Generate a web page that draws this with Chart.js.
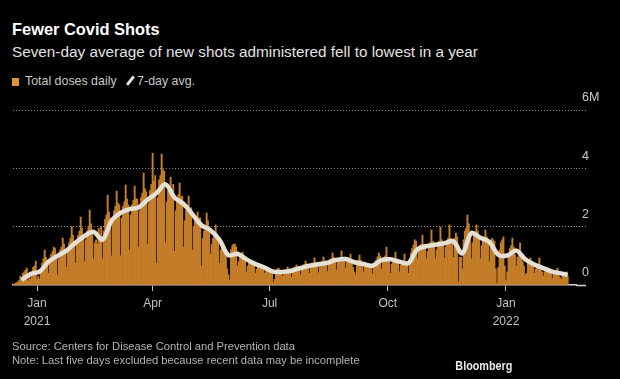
<!DOCTYPE html>
<html lang="en">
  <head>
    <meta charset="UTF-8" />
    <title>Fewer Covid Shots</title>
    <script src="https://cdn.jsdelivr.net/npm/chart.js@4.4.1/dist/chart.umd.min.js"></script>
    <style>
      body {
        margin: 0;
        background: #000;
        font-family: "Liberation Sans", Arial, sans-serif;
      }
      #wrap {
        position: relative;
        width: 620px;
        height: 379px;
        background: #000;
        overflow: hidden;
      }
      .txt {
        position: absolute;
        left: 12px;
        line-height: 1;
        white-space: nowrap;
      }
      #title {
        top: 21px;
        font-size: 16.4px;
        font-weight: bold;
        color: #ffffff;
      }
      #subtitle {
        top: 44px;
        font-size: 15.3px;
        color: #e2e2e2;
      }
      #legend {
        top: 75px;
        font-size: 12.4px;
        color: #c8c8c8;
      }
      #legend .box {
        display: inline-block;
        width: 7px;
        height: 8px;
        background: #e0952f;
        margin-right: 6px;
        vertical-align: -1px;
      }
      #legend .slash {
        display: inline-block;
        width: 2.5px;
        height: 11px;
        background: #e6e2d9;
        border-radius: 1px;
        transform: rotate(38deg);
        margin: 0 6px 0 12px;
        vertical-align: -1px;
      }
      #source {
        top: 341px;
        font-size: 11.2px;
        color: #b4b4b4;
      }
      #note {
        top: 355px;
        font-size: 11.2px;
        color: #b4b4b4;
      }
      #brand {
        position: absolute;
        right: 108px;
        top: 360px;
        font-size: 12px;
        font-weight: bold;
        color: #e8e8e8;
        line-height: 1;
        transform: scaleX(0.9);
        transform-origin: right center;
      }
      #chart-box {
        position: absolute;
        left: 0;
        top: 0;
        width: 620px;
        height: 379px;
      }
    </style>
  </head>
  <body>
    <div id="wrap">
      <div class="txt" id="title">Fewer Covid Shots</div>
      <div class="txt" id="subtitle">Seven-day average of new shots administered fell to lowest in a year</div>
      <div class="txt" id="legend"><span class="box"></span>Total doses daily<span class="slash"></span>7-day avg.</div>
      <div id="chart-box"><canvas id="shots"></canvas></div>
      <div class="txt" id="source">Source: Centers for Disease Control and Prevention data</div>
      <div class="txt" id="note">Note: Last five days excluded because recent data may be incomplete</div>
      <div id="brand">Bloomberg</div>
    </div>

    <script>
      // daily doses (millions), one row per week, Monday..Sunday, first day Dec 14 2020
      const firstDate = "2020-12-14";
      const dosesByWeek = [
        [0.02, 0.05, 0.08, 0.1, 0.15, 0.3, 0.22],
        [0.4, 0.45, 0.5, 0.58, 0.15, 0.35, 0.2],
        [0.45, 0.6, 0.65, 0.82, 0.2, 0.3, 0.2],
        [0.55, 0.75, 0.9, 1.2, 0.95, 0.85, 0.4],
        [0.85, 1.05, 1.15, 1.3, 1.25, 0.95, 0.35],
        [0.9, 1.2, 1.3, 1.61, 1.4, 1.2, 0.6],
        [1.2, 1.45, 1.6, 2.0, 1.7, 1.45, 0.75],
        [1.4, 1.7, 1.85, 2.33, 1.95, 1.65, 0.8],
        [1.55, 1.85, 2.0, 2.57, 2.1, 1.75, 0.9],
        [1.45, 1.55, 1.4, 1.95, 1.6, 2.0, 0.9],
        [1.85, 2.25, 2.4, 3.08, 2.5, 2.3, 1.0],
        [2.25, 2.55, 2.7, 3.22, 2.8, 2.75, 1.0],
        [2.3, 2.7, 2.85, 3.43, 2.95, 2.75, 1.2],
        [2.4, 2.75, 2.9, 3.39, 2.95, 2.95, 1.3],
        [2.55, 3.0, 3.15, 3.84, 3.3, 3.2, 1.4],
        [2.8, 3.25, 3.45, 4.52, 3.55, 3.75, 0.75],
        [3.0, 3.6, 3.75, 4.49, 3.95, 3.9, 1.45],
        [2.85, 3.25, 3.35, 3.7, 3.25, 3.45, 1.15],
        [2.55, 2.95, 3.1, 3.5, 3.0, 3.05, 1.3],
        [2.2, 2.55, 2.7, 3.05, 2.6, 2.65, 1.2],
        [2.0, 2.25, 2.35, 2.5, 2.3, 2.3, 0.65],
        [1.6, 1.85, 2.0, 2.47, 2.2, 2.0, 1.05],
        [1.4, 1.6, 1.7, 2.06, 1.75, 1.6, 0.75],
        [1.2, 1.3, 1.3, 1.3, 1.15, 0.55, 0.35],
        [0.17, 1.2, 1.35, 1.4, 1.4, 1.3, 0.65],
        [0.8, 0.95, 1.0, 1.13, 0.95, 0.85, 0.45],
        [0.65, 0.75, 0.8, 0.85, 0.8, 0.8, 0.4],
        [0.55, 0.65, 0.65, 0.7, 0.65, 0.6, 0.4],
        [0.5, 0.55, 0.55, 0.58, 0.52, 0.42, 0.08],
        [0.2, 0.5, 0.55, 0.58, 0.5, 0.5, 0.3],
        [0.45, 0.5, 0.52, 0.62, 0.55, 0.52, 0.27],
        [0.52, 0.6, 0.62, 0.69, 0.64, 0.62, 0.35],
        [0.6, 0.68, 0.7, 0.82, 0.72, 0.68, 0.4],
        [0.63, 0.72, 0.74, 0.93, 0.76, 0.77, 0.42],
        [0.68, 0.77, 0.8, 0.96, 0.82, 0.83, 0.46],
        [0.78, 0.87, 0.9, 1.1, 0.95, 0.9, 0.52],
        [0.8, 0.9, 0.92, 1.17, 0.95, 0.92, 0.57],
        [0.8, 0.85, 0.85, 1.06, 0.85, 0.6, 0.45],
        [0.35, 0.8, 0.85, 1.03, 0.85, 0.7, 0.45],
        [0.65, 0.7, 0.72, 0.75, 0.72, 0.7, 0.38],
        [0.7, 0.8, 0.85, 0.96, 1.1, 1.0, 0.55],
        [0.85, 0.95, 1.0, 1.3, 0.9, 0.8, 0.4],
        [0.72, 0.82, 0.85, 1.13, 0.85, 0.78, 0.45],
        [0.68, 0.75, 0.8, 1.06, 0.8, 0.75, 0.4],
        [0.85, 1.1, 1.25, 1.37, 1.55, 1.5, 0.9],
        [1.2, 1.35, 1.4, 1.71, 1.4, 1.35, 0.9],
        [1.15, 1.3, 1.45, 1.89, 1.5, 1.45, 0.9],
        [1.2, 1.4, 1.5, 1.99, 1.55, 1.45, 0.92],
        [1.3, 1.5, 1.6, 2.06, 1.6, 1.5, 0.95],
        [1.6, 1.78, 1.65, 0.1, 0.95, 0.95, 0.55],
        [1.55, 1.85, 1.95, 2.4, 2.1, 1.7, 0.9],
        [1.45, 1.7, 1.8, 2.06, 1.85, 1.55, 0.9],
        [1.35, 1.55, 1.65, 1.89, 1.65, 1.45, 0.8],
        [1.45, 1.6, 1.55, 1.5, 0.55, 0.05, 0.6],
        [1.2, 1.45, 1.55, 1.65, 0.65, 0.15, 0.45],
        [1.05, 1.25, 1.35, 1.61, 1.3, 1.05, 0.65],
        [0.95, 1.1, 1.44, 0.9, 0.8, 0.65, 0.35],
        [0.4, 0.8, 0.85, 0.93, 0.8, 0.7, 0.4],
        [0.55, 0.6, 0.65, 0.93, 0.55, 0.45, 0.3],
        [0.45, 0.5, 0.55, 0.58, 0.5, 0.4, 0.22],
        [0.4, 0.45, 0.48, 0.58, 0.45, 0.25, 0.2],
        [0.35, 0.4, 0.42, 0.45, 0.3],
      ];

      // 7-day average (millions), read at the Sunday that closes each week
      const avgByWeek = [
        0.17, 0.38, 0.46, 0.8, 1.0, 1.18, 1.45, 1.68, 1.82, 1.55, 2.2, 2.47,
        2.6, 2.66, 2.92, 3.15, 3.45, 3.0, 2.78, 2.42, 2.05, 1.88, 1.55, 1.02,
        1.07, 0.88, 0.72, 0.6, 0.46, 0.45, 0.49, 0.58, 0.66, 0.71, 0.76, 0.86,
        0.89, 0.78, 0.72, 0.66, 0.85, 0.88, 0.8, 0.75, 1.22, 1.33, 1.38, 1.43,
        1.5, 1.08, 1.78, 1.62, 1.48, 1.04, 1.01, 1.18, 0.88, 0.7, 0.58, 0.46,
        0.4, 0.34,
      ];

      const tickDates = ["2021-01-01", "2021-04-01", "2021-07-01", "2021-10-01", "2022-01-01"];
      const tickMonths = ["Jan", "Apr", "Jul", "Oct", "Jan"];
      const tickYears = ["2021", "", "", "", "2022"];
      const yTicks = [0, 2, 4, 6];
      const yTickLabels = ["0", "2", "4", "6M"];

      // days counted from Jan 1 2021
      const origin = Date.parse("2021-01-01");
      const dayOf = (s) => Math.round((Date.parse(s) - origin) / 86400000);
      const day0 = dayOf(firstDate);

      const barData = [];
      dosesByWeek.forEach((week, k) => {
        week.forEach((v, i) => barData.push({ x: day0 + k * 7 + i, y: v }));
      });
      const lastDay = barData[barData.length - 1].x;

      const avgData = avgByWeek.map((v, k) => ({
        x: Math.min(day0 + k * 7 + 6, lastDay),
        y: v,
      }));

      Chart.defaults.font.family = '"Liberation Sans", Arial, sans-serif';
      Chart.defaults.color = "#c2c2c2";

      const ctx = document.getElementById("shots").getContext("2d");
      new Chart(ctx, {
        type: "bar",
        data: {
          datasets: [
            {
              type: "line",
              label: "7-day avg.",
              data: avgData,
              borderColor: "#e4e0d6",
              borderWidth: 4.5,
              pointRadius: 0,
              tension: 0.35,
              order: 0,
            },
            {
              label: "Total doses daily",
              data: barData,
              backgroundColor: "#c47d28",
              barPercentage: 1,
              categoryPercentage: 1,
              order: 1,
            },
          ],
        },
        options: {
          responsive: true,
          maintainAspectRatio: false,
          animation: false,
          events: [],
          layout: { padding: { left: 13, top: 110, right: 0, bottom: 44 } },
          plugins: {
            legend: { display: false },
            tooltip: { enabled: false },
          },
          scales: {
            x: {
              type: "linear",
              offset: false,
              min: -18.7,
              max: 419.5,
              afterFit: (scale) => {
                scale.height = 50;
              },
              afterBuildTicks: (scale) => {
                scale.ticks = tickDates.map((d) => ({ value: dayOf(d) }));
              },
              ticks: {
                autoSkip: false,
                maxRotation: 0,
                padding: 4,
                color: "#c2c2c2",
                font: { size: 12, lineHeight: 1.5 },
                callback: (value, index) =>
                  tickYears[index] ? [tickMonths[index], tickYears[index]] : tickMonths[index],
              },
              grid: {
                display: true,
                offset: false,
                drawOnChartArea: false,
                drawTicks: true,
                tickLength: 6,
                tickColor: "#bdbdbd",
              },
              border: { display: true, color: "#d4d4d4", width: 1.5 },
            },
            y: {
              position: "right",
              min: 0,
              max: 6,
              afterFit: (scale) => {
                scale.width = 44;
              },
              afterBuildTicks: (scale) => {
                scale.ticks = yTicks.map((v) => ({ value: v }));
              },
              ticks: {
                padding: -4,
                labelOffset: -12,
                color: "#c8c8c8",
                font: { size: 12.5 },
                callback: (value, index) => yTickLabels[index],
              },
              grid: {
                color: (c) => (c.tick && c.tick.value === 0 ? "rgba(0,0,0,0)" : "#8a8a8a"),
                lineWidth: 1,
                drawTicks: true,
                tickLength: 10,
                tickColor: (c) => (c.tick && c.tick.value === 0 ? "#d4d4d4" : "#8a8a8a"),
                tickWidth: (c) => (c.tick && c.tick.value === 0 ? 1.5 : 1),
                tickBorderDash: (c) => (c.tick && c.tick.value === 0 ? [] : [1, 2]),
              },
              border: { display: false, dash: [1, 2] },
            },
          },
        },
      });
    </script>
  </body>
</html>
